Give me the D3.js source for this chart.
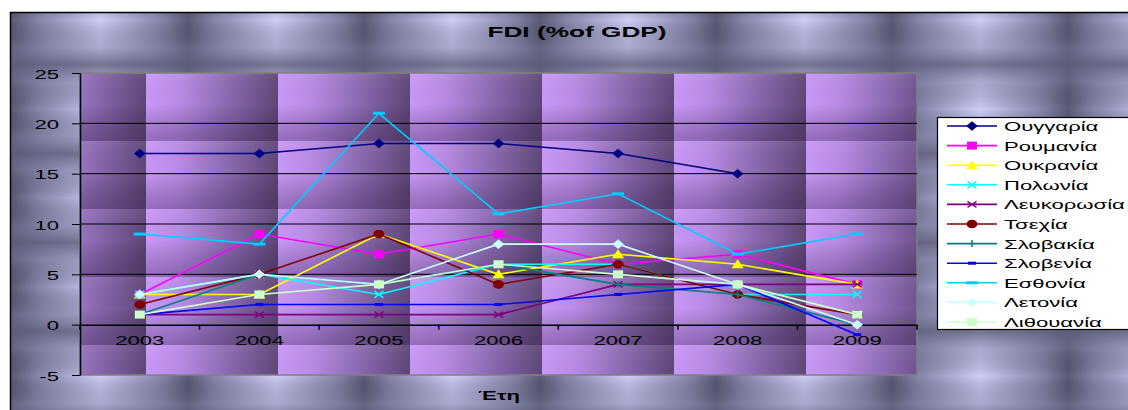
<!DOCTYPE html>
<html><head><meta charset="utf-8">
<script src="https://cdn.jsdelivr.net/npm/d3@7"></script>
<style>
body{margin:0;background:#fff;overflow:hidden}
svg{display:block}
text{font-family:"Liberation Sans",Arial,sans-serif;fill:#000}
</style>
</head><body>
<svg id="chart" width="1128" height="410"></svg>
<script>
// ---------- DATA ----------
const years = ["2003","2004","2005","2006","2007","2008","2009"];
const seriesNames = ["Ουγγαρία","Ρουμανία","Ουκρανία","Πολωνία","Λευκορωσία","Τσεχία","Σλοβακία","Σλοβενία","Εσθονία","Λετονία","Λιθουανία"];
const hungary   = [17, 17, 18, 18, 17, 15, null];
const romania   = [3, 9, 7, 9, 6, 7, 4];
const ukraine   = [3, 3, 9, 5, 7, 6, 4];
const poland    = [3, 5, 3, 6, 6, 3, 3];
const belarus   = [1, 1, 1, 1, 4, 4, 4];
const czech     = [2, 5, 9, 4, 6, 3, 1];
const slovakia  = [1, 5, 4, 6, 4, 3, 0];
const slovenia  = [1, 2, 2, 2, 3, 4, -1];
const estonia   = [9, 8, 21, 11, 13, 7, 9];
const latvia    = [3, 5, 4, 8, 8, 4, 0];
const lithuania = [1, 3, 4, 6, 5, 4, 1];
const yTicks = [-5, 0, 5, 10, 15, 20, 25];
const chartTitle = "FDI (%of GDP)";
const xTitle = "Έτη";

const seriesValues = [hungary, romania, ukraine, poland, belarus, czech, slovakia, slovenia, estonia, latvia, lithuania];

// ---------- STYLES ----------
const colors  = ["#000080","#FF00FF","#FFFF00","#00FFFF","#800080","#800000","#008080","#0000FF","#00CCFF","#CCFFFF","#CCFFCC"];
const markers = ["diamond","square","triangle","x","asterisk","circle","plus","dash","longdash","diamond","square"];

const svg = d3.select("#chart");
const plot = {l: 80, r: 917, t: 73, b: 375};
const SX = 1.7; // horizontal text stretch

const defs = svg.append("defs");
// outer background tile
const gH = defs.append("linearGradient").attr("id","bgH").attr("x1",0).attr("x2",1).attr("y1",0).attr("y2",0);
[[0,"#5c5c78"],[0.15,"#8686ac"],[0.5,"#cdcdf8"],[0.85,"#8686ac"],[1,"#5c5c78"]].forEach(s=>gH.append("stop").attr("offset",s[0]).attr("stop-color",s[1]));
const gV = defs.append("linearGradient").attr("id","bgV").attr("x1",0).attr("x2",0).attr("y1",0).attr("y2",1);
[[0,"#5c5c78",0.8],[0.2,"#70708f",0.35],[0.5,"#000",0],[0.8,"#70708f",0.35],[1,"#5c5c78",0.8]].forEach(s=>gV.append("stop").attr("offset",s[0]).attr("stop-color",s[1]).attr("stop-opacity",s[2]));
const pBg = defs.append("pattern").attr("id","bgTile").attr("patternUnits","userSpaceOnUse")
  .attr("x",12).attr("y",-24.5).attr("width",176).attr("height",89);
pBg.append("rect").attr("width",176).attr("height",89).attr("fill","url(#bgH)");
pBg.append("rect").attr("width",176).attr("height",89).attr("fill","url(#bgV)");

// plot area tile
const pH = defs.append("linearGradient").attr("id","plH").attr("x1",0).attr("x2",1).attr("y1",0).attr("y2",0);
[[0,"#c998f8"],[0.25,"#b98be6"],[0.55,"#9370bb"],[1,"#5e4678"]].forEach(s=>pH.append("stop").attr("offset",s[0]).attr("stop-color",s[1]));
const pV = defs.append("linearGradient").attr("id","plV").attr("x1",0).attr("x2",0).attr("y1",0).attr("y2",1);
[[0,"#fff",0.06],[0.45,"#000",0],[1,"#2a1440",0.32]].forEach(s=>pV.append("stop").attr("offset",s[0]).attr("stop-color",s[1]).attr("stop-opacity",s[2]));
const pPl = defs.append("pattern").attr("id","plTile").attr("patternUnits","userSpaceOnUse")
  .attr("x",14).attr("y",73).attr("width",132).attr("height",68);
pPl.append("rect").attr("width",132).attr("height",68).attr("fill","url(#plH)");
pPl.append("rect").attr("width",132).attr("height",68).attr("fill","url(#plV)");

// chart area
svg.append("rect").attr("x",10.5).attr("y",12.5).attr("width",1140).attr("height",420)
  .attr("fill","url(#bgTile)").attr("stroke","#000").attr("stroke-width",1.5);

// scales
const x = d3.scaleBand().domain(years).range([plot.l, plot.r]).padding(0);
const y = d3.scaleLinear().domain([-5, 25]).range([plot.b, plot.t]);
const cx = d => x(d) + x.bandwidth()/2;

// plot area
svg.append("rect").attr("x",plot.l).attr("y",plot.t).attr("width",plot.r-plot.l).attr("height",plot.b-plot.t)
  .attr("fill","url(#plTile)").attr("stroke","#808080").attr("stroke-width",1.5);

// gridlines
svg.append("g").selectAll("line").data(yTicks.filter(v => v > -5 && v < 25 && v !== 0)).join("line")
  .attr("x1",plot.l).attr("x2",plot.r).attr("y1",d=>y(d)).attr("y2",d=>y(d))
  .attr("stroke","#000").attr("stroke-width",1);

function stretchText(sel, sx) {
  sel.each(function(){
    const t = d3.select(this);
    const tx = +t.attr("x") || 0, ty = +t.attr("y") || 0;
    t.attr("transform", `translate(${tx},${ty}) scale(${sx},1)`).attr("x",0).attr("y",0);
  });
}

// y axis
const yAx = svg.append("g").attr("transform",`translate(${plot.l},0)`)
  .call(d3.axisLeft(y).tickValues(yTicks).tickFormat(d => String(d)).tickSize(8).tickSizeOuter(0));
yAx.select(".domain").attr("stroke","#000").attr("stroke-width",1.5);
yAx.selectAll(".tick line").attr("stroke","#000");
yAx.selectAll(".tick text").attr("font-size",13).attr("x",-21).attr("y",5).attr("dy",null)
  .attr("text-anchor","end").attr("font-family","Liberation Sans, Arial, sans-serif").attr("fill","#000");
stretchText(yAx.selectAll(".tick text"), SX);

// x axis at y = 0
const xAx = svg.append("g").attr("transform",`translate(0,${y(0)})`)
  .call(d3.axisBottom(x).tickSize(0).tickSizeOuter(0));
xAx.select(".domain").attr("stroke","#000").attr("stroke-width",1.5);
xAx.selectAll(".tick text").attr("font-size",13).attr("y",20).attr("dy",null)
  .attr("font-family","Liberation Sans, Arial, sans-serif").attr("fill","#000");
stretchText(xAx.selectAll(".tick text"), SX);
const bounds = years.map(d => x(d)).concat([plot.r]);
xAx.append("g").selectAll("line").data(bounds).join("line")
  .attr("x1",d=>d).attr("x2",d=>d).attr("y1",0).attr("y2",5).attr("stroke","#000").attr("stroke-width",1.5);

// titles
const tt = svg.append("text").attr("x",577).attr("y",37).attr("text-anchor","middle")
  .attr("font-size",15).attr("font-weight","bold").text(chartTitle);
stretchText(tt, 1.75);
const xt = svg.append("text").attr("x",499).attr("y",400).attr("text-anchor","middle")
  .attr("font-size",13).attr("font-weight","bold").text(xTitle);
stretchText(xt, SX);

// markers
function drawMarker(g, type, color) {
  switch(type) {
    case "diamond": g.append("path").attr("d","M0,-4.5L5.5,0L0,4.5L-5.5,0Z").attr("fill",color).attr("stroke",color).attr("stroke-width",0.5); break;
    case "square": g.append("rect").attr("x",-5).attr("y",-4).attr("width",10).attr("height",8).attr("fill",color); break;
    case "triangle": g.append("path").attr("d","M0,-5L6,4L-6,4Z").attr("fill",color); break;
    case "x": g.append("path").attr("d","M-4.5,-3.5L4.5,3.5M-4.5,3.5L4.5,-3.5").attr("stroke",color).attr("stroke-width",1.5).attr("fill","none"); break;
    case "asterisk": g.append("path").attr("d","M-4.5,-3L4.5,3M-4.5,3L4.5,-3M-5,0H5").attr("stroke",color).attr("stroke-width",1.3).attr("fill","none"); break;
    case "circle": g.append("ellipse").attr("rx",5.5).attr("ry",4.3).attr("fill",color); break;
    case "plus": g.append("path").attr("d","M0,-3.5V3.5M-2,0H2").attr("stroke",color).attr("stroke-width",1.5).attr("fill","none"); break;
    case "dash": g.append("rect").attr("x",-4).attr("y",-1.5).attr("width",8).attr("height",3).attr("fill",color); break;
    case "longdash": g.append("rect").attr("x",-6).attr("y",-1.5).attr("width",12).attr("height",3).attr("fill",color); break;
  }
}

// series
const line = d3.line().defined(d => d.v !== null).x(d => cx(d.year)).y(d => y(d.v));
seriesValues.forEach((vals, i) => {
  const pts = years.map((yr, j) => ({year: yr, v: vals[j]}));
  const g = svg.append("g");
  g.append("path").datum(pts).attr("d", line).attr("fill","none").attr("stroke",colors[i]).attr("stroke-width",1.6);
  pts.filter(p => p.v !== null).forEach(p => {
    const m = g.append("g").attr("transform",`translate(${cx(p.year)},${y(p.v)})`);
    drawMarker(m, markers[i], colors[i]);
  });
});

// legend
const lg = svg.append("g");
lg.append("rect").attr("x",937.5).attr("y",117.5).attr("width",200).attr("height",212)
  .attr("fill","#fff").attr("stroke","#000").attr("stroke-width",1.2);
seriesNames.forEach((name, i) => {
  const yy = 126 + i*19.6;
  const row = lg.append("g");
  row.append("line").attr("x1",947).attr("x2",997).attr("y1",yy).attr("y2",yy).attr("stroke",colors[i]).attr("stroke-width",1.6);
  drawMarker(row.append("g").attr("transform",`translate(972,${yy})`), markers[i], colors[i]);
  const t = row.append("text").attr("x",1004).attr("y",yy+5).attr("font-size",13).text(name);
  stretchText(t, 1.7);
});
</script>
</body></html>
